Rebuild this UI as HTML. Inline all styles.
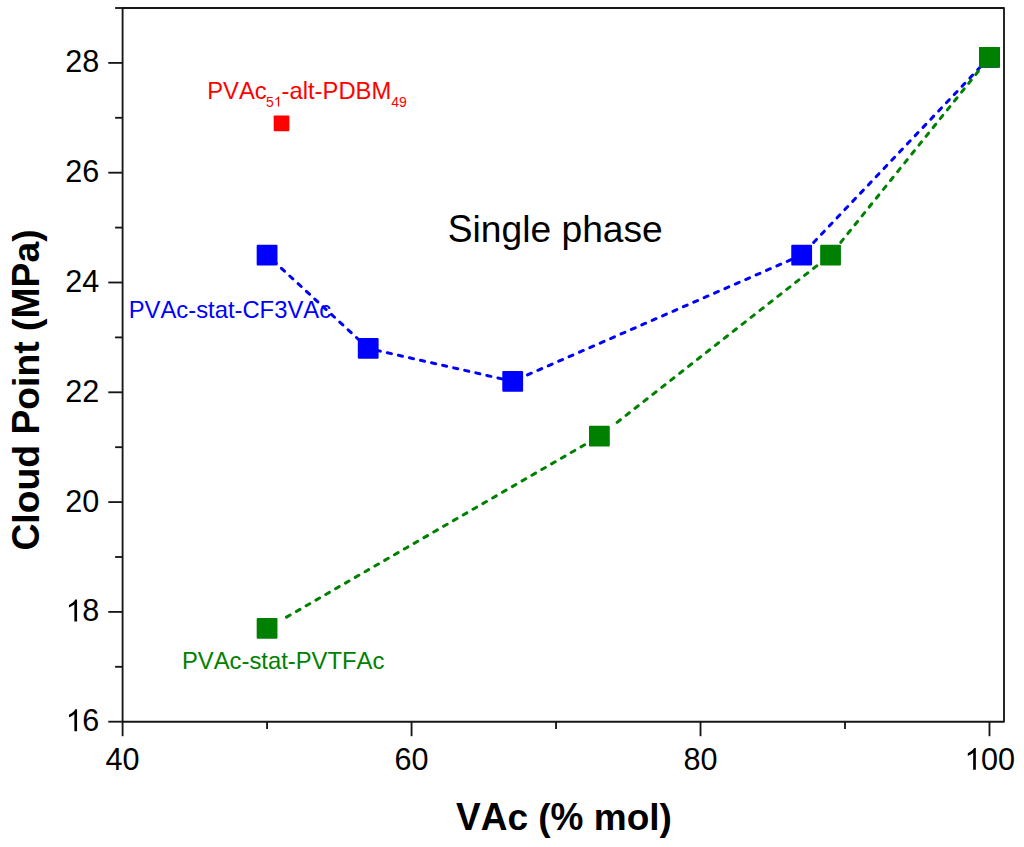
<!DOCTYPE html><html><head><meta charset="utf-8"><style>html,body{margin:0;padding:0;background:#fff;}svg{display:block;}text{font-family:"Liberation Sans",sans-serif;font-kerning:none;}</style></head><body>
<svg width="1024" height="847" viewBox="0 0 1024 847">
<rect width="1024" height="847" fill="#fff"/>
<g stroke="#161616" stroke-width="1.85" fill="none" stroke-linejoin="round">
<path d="M122.60 8.00H1004.0V721.70H122.60Z"/>
<path d="M108.30 721.70H122.60"/>
<path d="M115.10 666.80H122.60"/>
<path d="M108.30 611.90H122.60"/>
<path d="M115.10 557.00H122.60"/>
<path d="M108.30 502.10H122.60"/>
<path d="M115.10 447.20H122.60"/>
<path d="M108.30 392.30H122.60"/>
<path d="M115.10 337.40H122.60"/>
<path d="M108.30 282.50H122.60"/>
<path d="M115.10 227.60H122.60"/>
<path d="M108.30 172.70H122.60"/>
<path d="M115.10 117.80H122.60"/>
<path d="M108.30 62.90H122.60"/>
<path d="M115.10 8.00H122.60"/>
<path d="M122.60 721.70V736.20"/>
<path d="M267.08 721.70V729.00"/>
<path d="M411.56 721.70V736.20"/>
<path d="M556.04 721.70V729.00"/>
<path d="M700.52 721.70V736.20"/>
<path d="M845.00 721.70V729.00"/>
<path d="M989.48 721.70V736.20"/>
</g>
<path transform="matrix(0.014941 0 0 -0.014941 65.66 731.20)" d="M763 0L583 0L583 1147Q518 1085 415 1024Q312 963 223 930L223 1104Q371 1174 482.5 1273Q594 1372 647 1466L763 1466Z" fill="#000"/>
<text transform="matrix(1 0 0 1.0412 82.18 731.20)" font-size="30.6" fill="#000">6</text>
<path transform="matrix(0.014941 0 0 -0.014941 65.66 621.40)" d="M763 0L583 0L583 1147Q518 1085 415 1024Q312 963 223 930L223 1104Q371 1174 482.5 1273Q594 1372 647 1466L763 1466Z" fill="#000"/>
<text transform="matrix(1 0 0 1.0412 82.18 621.40)" font-size="30.6" fill="#000">8</text>
<text transform="matrix(1 0 0 1.0412 65.16 511.60)" font-size="30.6" fill="#000">2</text>
<text transform="matrix(1 0 0 1.0412 82.18 511.60)" font-size="30.6" fill="#000">0</text>
<text transform="matrix(1 0 0 1.0412 65.16 401.80)" font-size="30.6" fill="#000">2</text>
<text transform="matrix(1 0 0 1.0412 82.18 401.80)" font-size="30.6" fill="#000">2</text>
<text transform="matrix(1 0 0 1.0412 65.16 292.00)" font-size="30.6" fill="#000">2</text>
<text transform="matrix(1 0 0 1.0412 82.18 292.00)" font-size="30.6" fill="#000">4</text>
<text transform="matrix(1 0 0 1.0412 65.16 182.20)" font-size="30.6" fill="#000">2</text>
<text transform="matrix(1 0 0 1.0412 82.18 182.20)" font-size="30.6" fill="#000">6</text>
<text transform="matrix(1 0 0 1.0412 65.16 72.40)" font-size="30.6" fill="#000">2</text>
<text transform="matrix(1 0 0 1.0412 82.18 72.40)" font-size="30.6" fill="#000">8</text>
<text transform="matrix(1 0 0 1.0412 105.58 769.80)" font-size="30.6" fill="#000">4</text>
<text transform="matrix(1 0 0 1.0412 122.60 769.80)" font-size="30.6" fill="#000">0</text>
<text transform="matrix(1 0 0 1.0412 394.54 769.80)" font-size="30.6" fill="#000">6</text>
<text transform="matrix(1 0 0 1.0412 411.56 769.80)" font-size="30.6" fill="#000">0</text>
<text transform="matrix(1 0 0 1.0412 683.50 769.80)" font-size="30.6" fill="#000">8</text>
<text transform="matrix(1 0 0 1.0412 700.52 769.80)" font-size="30.6" fill="#000">0</text>
<path transform="matrix(0.014941 0 0 -0.014941 964.45 769.80)" d="M763 0L583 0L583 1147Q518 1085 415 1024Q312 963 223 930L223 1104Q371 1174 482.5 1273Q594 1372 647 1466L763 1466Z" fill="#000"/>
<text transform="matrix(1 0 0 1.0412 980.97 769.80)" font-size="30.6" fill="#000">0</text>
<text transform="matrix(1 0 0 1.0412 997.99 769.80)" font-size="30.6" fill="#000">0</text>
<text transform="matrix(1 0 0 1.0412 456.00 830.00)" font-size="37" font-weight="bold" fill="#000">V</text>
<text transform="matrix(1 0 0 1.0412 480.68 830.00)" font-size="37" font-weight="bold" fill="#000">A</text>
<text x="507.40" y="830.00" font-size="37" font-weight="bold" fill="#000">c</text>
<text x="538.26" y="830.00" font-size="37" font-weight="bold" fill="#000">(</text>
<text transform="matrix(1 0 0 1.0412 550.58 830.00)" font-size="37" font-weight="bold" fill="#000">%</text>
<text x="593.76" y="830.00" font-size="37" font-weight="bold" fill="#000">m</text>
<text x="626.66" y="830.00" font-size="37" font-weight="bold" fill="#000">o</text>
<text transform="matrix(1 0 0 0.9880 649.26 830.00)" font-size="37" font-weight="bold" fill="#000">l</text>
<text x="659.54" y="830.00" font-size="37" font-weight="bold" fill="#000">)</text>
<g transform="translate(38.9 550.57) rotate(-90)">
<text transform="matrix(1 0 0 1.0412 0.00 0.00)" font-size="37.3" font-weight="bold" fill="#000">C</text>
<text transform="matrix(1 0 0 0.9880 26.94 0.00)" font-size="37.3" font-weight="bold" fill="#000">l</text>
<text x="37.30" y="0.00" font-size="37.3" font-weight="bold" fill="#000">o</text>
<text x="60.08" y="0.00" font-size="37.3" font-weight="bold" fill="#000">u</text>
<text transform="matrix(1 0 0 0.9880 82.87 0.00)" font-size="37.3" font-weight="bold" fill="#000">d</text>
<text transform="matrix(1 0 0 1.0412 116.02 0.00)" font-size="37.3" font-weight="bold" fill="#000">P</text>
<text x="140.89" y="0.00" font-size="37.3" font-weight="bold" fill="#000">o</text>
<text transform="matrix(1 0 0 0.9880 163.68 0.00)" font-size="37.3" font-weight="bold" fill="#000">i</text>
<text x="174.04" y="0.00" font-size="37.3" font-weight="bold" fill="#000">n</text>
<text x="196.83" y="0.00" font-size="37.3" font-weight="bold" fill="#000">t</text>
<text x="219.61" y="0.00" font-size="37.3" font-weight="bold" fill="#000">(</text>
<text transform="matrix(1 0 0 1.0412 232.03 0.00)" font-size="37.3" font-weight="bold" fill="#000">M</text>
<text transform="matrix(1 0 0 1.0412 263.10 0.00)" font-size="37.3" font-weight="bold" fill="#000">P</text>
<text x="287.98" y="0.00" font-size="37.3" font-weight="bold" fill="#000">a</text>
<text x="308.73" y="0.00" font-size="37.3" font-weight="bold" fill="#000">)</text>
</g>
<line x1="267.08" y1="255.05" x2="368.22" y2="348.38" stroke="#0000ff" stroke-width="3" stroke-dasharray="4.18 7.16" stroke-dashoffset="3.15" stroke-linecap="round"/>
<line x1="368.22" y1="348.38" x2="512.70" y2="381.32" stroke="#0000ff" stroke-width="3" stroke-dasharray="4.18 7.16" stroke-dashoffset="3.10" stroke-linecap="round"/>
<line x1="512.70" y1="381.32" x2="801.66" y2="255.05" stroke="#0000ff" stroke-width="3" stroke-dasharray="4.18 7.16" stroke-dashoffset="6.54" stroke-linecap="round"/>
<line x1="801.66" y1="255.05" x2="989.48" y2="57.41" stroke="#0000ff" stroke-width="3" stroke-dasharray="4.18 7.16" stroke-dashoffset="5.32" stroke-linecap="round"/>
<rect x="256.68" y="244.65" width="20.8" height="20.8" rx="1" fill="#0000ff"/>
<rect x="357.82" y="337.98" width="20.8" height="20.8" rx="1" fill="#0000ff"/>
<rect x="502.30" y="370.92" width="20.8" height="20.8" rx="1" fill="#0000ff"/>
<rect x="791.26" y="244.65" width="20.8" height="20.8" rx="1" fill="#0000ff"/>
<rect x="979.08" y="47.01" width="20.8" height="20.8" rx="1" fill="#0000ff"/>
<line x1="286.13" y1="617.36" x2="599.38" y2="436.22" stroke="#008000" stroke-width="3" stroke-dasharray="4.18 7.16" stroke-dashoffset="10.91" stroke-linecap="round"/>
<line x1="616.70" y1="422.65" x2="830.55" y2="255.05" stroke="#008000" stroke-width="3" stroke-dasharray="4.18 7.16" stroke-dashoffset="10.80" stroke-linecap="round"/>
<line x1="830.55" y1="255.05" x2="989.48" y2="57.41" stroke="#008000" stroke-width="3" stroke-dasharray="4.18 7.16" stroke-dashoffset="6.43" stroke-linecap="round"/>
<rect x="256.68" y="617.97" width="20.8" height="20.8" rx="1" fill="#008000"/>
<rect x="588.98" y="425.82" width="20.8" height="20.8" rx="1" fill="#008000"/>
<rect x="820.15" y="244.65" width="20.8" height="20.8" rx="1" fill="#008000"/>
<rect x="979.08" y="47.01" width="20.8" height="20.8" rx="1" fill="#008000"/>
<rect x="273.68" y="115.44" width="15.7" height="15.7" rx="0.8" fill="#ff0000"/>
<text transform="matrix(1 0 0 1.0412 447.70 242.40)" font-size="37.2" fill="#000">S</text>
<text transform="matrix(1 0 0 0.9880 472.51 242.40)" font-size="37.2" fill="#000">i</text>
<text x="480.78" y="242.40" font-size="37.2" fill="#000">n</text>
<text x="501.47" y="242.40" font-size="37.2" fill="#000">g</text>
<text transform="matrix(1 0 0 0.9880 522.15 242.40)" font-size="37.2" fill="#000">l</text>
<text x="530.42" y="242.40" font-size="37.2" fill="#000">e</text>
<text x="561.44" y="242.40" font-size="37.2" fill="#000">p</text>
<text transform="matrix(1 0 0 0.9880 582.13 242.40)" font-size="37.2" fill="#000">h</text>
<text x="602.82" y="242.40" font-size="37.2" fill="#000">a</text>
<text x="623.51" y="242.40" font-size="37.2" fill="#000">s</text>
<text x="642.11" y="242.40" font-size="37.2" fill="#000">e</text>
<text transform="matrix(1 0 0 1.0300 128.70 317.90)" font-size="23.8" fill="#0000ff">P</text>
<text transform="matrix(1 0 0 1.0300 144.57 317.90)" font-size="23.8" fill="#0000ff">V</text>
<text transform="matrix(1 0 0 1.0300 160.45 317.90)" font-size="23.8" fill="#0000ff">A</text>
<text x="176.32" y="317.90" font-size="23.8" fill="#0000ff">c</text>
<text x="188.22" y="317.90" font-size="23.8" fill="#0000ff">-</text>
<text x="196.15" y="317.90" font-size="23.8" fill="#0000ff">s</text>
<text x="208.05" y="317.90" font-size="23.8" fill="#0000ff">t</text>
<text x="214.66" y="317.90" font-size="23.8" fill="#0000ff">a</text>
<text x="227.90" y="317.90" font-size="23.8" fill="#0000ff">t</text>
<text x="234.51" y="317.90" font-size="23.8" fill="#0000ff">-</text>
<text transform="matrix(1 0 0 1.0300 242.44 317.90)" font-size="23.8" fill="#0000ff">C</text>
<text transform="matrix(1 0 0 1.0300 259.62 317.90)" font-size="23.8" fill="#0000ff">F</text>
<text transform="matrix(1 0 0 1.0300 274.16 317.90)" font-size="23.8" fill="#0000ff">3</text>
<text transform="matrix(1 0 0 1.0300 287.40 317.90)" font-size="23.8" fill="#0000ff">V</text>
<text transform="matrix(1 0 0 1.0300 303.27 317.90)" font-size="23.8" fill="#0000ff">A</text>
<text x="319.15" y="317.90" font-size="23.8" fill="#0000ff">c</text>
<text transform="matrix(1 0 0 1.0300 182.00 668.50)" font-size="23.8" fill="#008000">P</text>
<text transform="matrix(1 0 0 1.0300 197.87 668.50)" font-size="23.8" fill="#008000">V</text>
<text transform="matrix(1 0 0 1.0300 213.75 668.50)" font-size="23.8" fill="#008000">A</text>
<text x="229.62" y="668.50" font-size="23.8" fill="#008000">c</text>
<text x="241.52" y="668.50" font-size="23.8" fill="#008000">-</text>
<text x="249.45" y="668.50" font-size="23.8" fill="#008000">s</text>
<text x="261.35" y="668.50" font-size="23.8" fill="#008000">t</text>
<text x="267.96" y="668.50" font-size="23.8" fill="#008000">a</text>
<text x="281.20" y="668.50" font-size="23.8" fill="#008000">t</text>
<text x="287.81" y="668.50" font-size="23.8" fill="#008000">-</text>
<text transform="matrix(1 0 0 1.0300 295.74 668.50)" font-size="23.8" fill="#008000">P</text>
<text transform="matrix(1 0 0 1.0300 311.61 668.50)" font-size="23.8" fill="#008000">V</text>
<text transform="matrix(1 0 0 1.0300 327.48 668.50)" font-size="23.8" fill="#008000">T</text>
<text transform="matrix(1 0 0 1.0300 342.02 668.50)" font-size="23.8" fill="#008000">F</text>
<text transform="matrix(1 0 0 1.0300 356.56 668.50)" font-size="23.8" fill="#008000">A</text>
<text x="372.43" y="668.50" font-size="23.8" fill="#008000">c</text>
<text transform="matrix(1 0 0 1.0300 207.15 98.60)" font-size="23.8" fill="#ff0000">P</text>
<text transform="matrix(1 0 0 1.0300 223.02 98.60)" font-size="23.8" fill="#ff0000">V</text>
<text transform="matrix(1 0 0 1.0300 238.90 98.60)" font-size="23.8" fill="#ff0000">A</text>
<text x="254.77" y="98.60" font-size="23.8" fill="#ff0000">c</text>
<text transform="matrix(1 0 0 1.0300 266.10 106.50)" font-size="14" fill="#ff0000">5</text>
<path transform="matrix(0.006836 0 0 -0.006836 273.89 106.50)" d="M763 0L583 0L583 1147Q518 1085 415 1024Q312 963 223 930L223 1104Q371 1174 482.5 1273Q594 1372 647 1466L763 1466Z" fill="#ff0000"/>
<text x="281.55" y="98.60" font-size="23.8" fill="#ff0000">-</text>
<text x="289.48" y="98.60" font-size="23.8" fill="#ff0000">a</text>
<text transform="matrix(1 0 0 0.9880 302.71 98.60)" font-size="23.8" fill="#ff0000">l</text>
<text x="308.00" y="98.60" font-size="23.8" fill="#ff0000">t</text>
<text x="314.61" y="98.60" font-size="23.8" fill="#ff0000">-</text>
<text transform="matrix(1 0 0 1.0300 322.54 98.60)" font-size="23.8" fill="#ff0000">P</text>
<text transform="matrix(1 0 0 1.0300 338.41 98.60)" font-size="23.8" fill="#ff0000">D</text>
<text transform="matrix(1 0 0 1.0300 355.60 98.60)" font-size="23.8" fill="#ff0000">B</text>
<text transform="matrix(1 0 0 1.0300 371.47 98.60)" font-size="23.8" fill="#ff0000">M</text>
<text transform="matrix(1 0 0 1.0300 391.30 106.50)" font-size="14" fill="#ff0000">4</text>
<text transform="matrix(1 0 0 1.0300 399.09 106.50)" font-size="14" fill="#ff0000">9</text>
</svg></body></html>
